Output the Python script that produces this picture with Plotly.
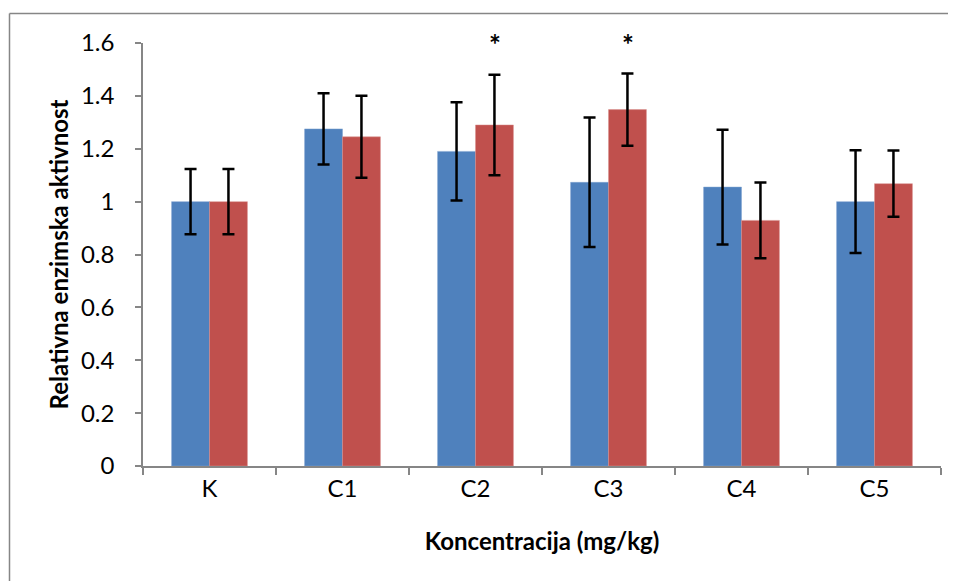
import plotly.graph_objects as go

categories = ["K", "C1", "C2", "C3", "C4", "C5"]
series_a = [1.00, 1.275, 1.19, 1.073, 1.055, 1.00]
series_a_err = [0.123, 0.135, 0.186, 0.245, 0.217, 0.194]
series_b = [1.00, 1.245, 1.29, 1.348, 0.929, 1.068]
series_b_err = [0.123, 0.155, 0.19, 0.137, 0.143, 0.125]
significant = ["C2", "C3"]
y_ticks = [0, 0.2, 0.4, 0.6, 0.8, 1.0, 1.2, 1.4, 1.6]
y_tick_text = ["0", "0.2", "0.4", "0.6", "0.8", "1", "1.2", "1.4", "1.6"]

FONT = "Lato, 'Open Sans', sans-serif"
AX = "#868686"

fig = go.Figure()
fig.add_trace(go.Bar(
    x=categories, y=series_a, name="A",
    marker=dict(color="#4F81BD", line=dict(color="#7FA3D0", width=0.5)),
    error_y=dict(type="data", array=series_a_err, color="black", thickness=2.5, width=6),
))
fig.add_trace(go.Bar(
    x=categories, y=series_b, name="B",
    marker=dict(color="#C0504D", line=dict(color="#D8908E", width=0.5)),
    error_y=dict(type="data", array=series_b_err, color="black", thickness=2.5, width=6),
))

for c in significant:
    fig.add_annotation(x=c, y=1.6, xref="x", yref="y", text="<b>*</b>", showarrow=False,
                       xshift=19, yshift=-1, font=dict(family=FONT, size=28, color="black"),
                       yanchor="middle")

# outer chart border (top and left edges visible)
fig.add_shape(type="line", xref="paper", yref="paper", x0=-0.1673, x1=1.05, y0=1.0697, y1=1.0697,
              line=dict(color=AX, width=1.5))
fig.add_shape(type="line", xref="paper", yref="paper", x0=-0.1673, x1=-0.1673, y0=-0.4, y1=1.0697,
              line=dict(color=AX, width=1.5))

fig.update_layout(
    width=956, height=581,
    margin=dict(l=135, r=23, t=35, b=123),
    paper_bgcolor="white", plot_bgcolor="white",
    barmode="group", bargap=0.43, bargroupgap=0,
    showlegend=False,
    font=dict(family=FONT, size=24, color="black"),
)
fig.update_xaxes(
    type="category", showline=True, linecolor=AX, linewidth=1.5,
    ticks="outside", tickson="boundaries", ticklen=7, tickcolor=AX, tickwidth=1.5,
    showgrid=False, zeroline=False,
    tickfont=dict(family=FONT, size=24),
    title=dict(text="<b>Koncentracija (mg/kg)</b>", font=dict(family=FONT, size=24), standoff=33),
)
fig.update_yaxes(
    range=[0, 1.6], tickvals=y_ticks, ticktext=y_tick_text,
    showline=True, linecolor=AX, linewidth=1.5,
    ticks="outside", ticklen=6, tickcolor=AX, tickwidth=1.5,
    showgrid=False, zeroline=False,
    tickfont=dict(family=FONT, size=24),
    ticklabelstandoff=16,
    title=dict(text="<b>Relativna enzimska aktivnost</b>", font=dict(family=FONT, size=24), standoff=6),
)

fig.write_html("out.html")
